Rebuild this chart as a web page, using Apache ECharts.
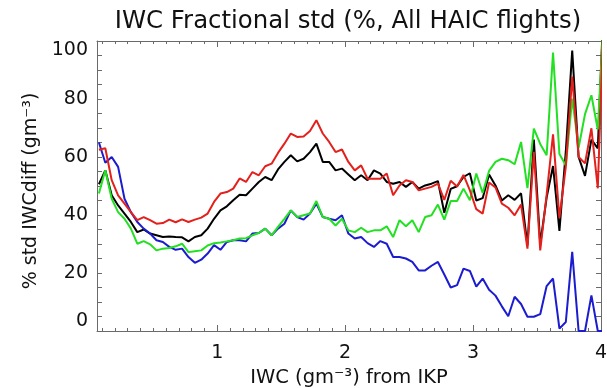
<!DOCTYPE html>
<html>
<head>
<meta charset="utf-8">
<script src="https://cdn.jsdelivr.net/npm/echarts@6/dist/echarts.min.js"></script>
<style>
  html, body { margin: 0; padding: 0; background: #fff; }
  #chart { width: 607px; height: 388px; }
</style>
</head>
<body>
<div id="chart"></div>
<script>
// IWC bin centres (g m^-3) from IKP
const iwc = [
  0.075, 0.125, 0.175, 0.225, 0.275, 0.325, 0.375, 0.425, 0.475, 0.525,
  0.575, 0.625, 0.675, 0.725, 0.775, 0.825, 0.875, 0.925, 0.975, 1.025,
  1.075, 1.125, 1.175, 1.225, 1.275, 1.325, 1.375, 1.425, 1.475, 1.525,
  1.575, 1.625, 1.675, 1.725, 1.775, 1.825, 1.875, 1.925, 1.975, 2.025,
  2.075, 2.125, 2.175, 2.225, 2.275, 2.325, 2.375, 2.425, 2.475, 2.525,
  2.575, 2.625, 2.675, 2.725, 2.775, 2.825, 2.875, 2.925, 2.975, 3.025,
  3.075, 3.125, 3.175, 3.225, 3.275, 3.325, 3.375, 3.425, 3.475, 3.525,
  3.575, 3.625, 3.675, 3.725, 3.775, 3.825, 3.875, 3.925, 3.975, 4.025
];

// fractional std (%) per bin
const stdBlack = [
  50.6, 55.4, 46.8, 43.3, 40.5, 37.6, 34.1, 35.0, 33.6, 33.0,
  32.4, 32.6, 32.4, 32.3, 30.9, 32.4, 33.0, 35.3, 38.7, 41.6,
  43.0, 45.1, 47.0, 46.8, 49.1, 51.4, 53.1, 52.0, 55.7, 58.3,
  60.6, 58.5, 59.4, 61.7, 64.6, 58.3, 58.3, 55.4, 56.0, 54.0,
  52.0, 53.7, 52.0, 55.4, 54.3, 51.4, 50.8, 51.4, 49.7, 51.4,
  49.1, 50.2, 50.8, 51.7, 40.8, 49.0, 49.9, 53.1, 54.4, 45.0,
  45.8, 54.0, 50.2, 45.0, 46.8, 45.2, 47.5, 29.5, 66.0, 30.0,
  46.0, 56.9, 34.5, 62.0, 96.7, 60.0, 53.5, 66.0, 63.0, 118.0
];
const stdRed = [
  62.5, 63.0, 52.0, 46.8, 43.9, 41.0, 38.2, 39.3, 38.2, 37.0,
  37.2, 38.4, 37.5, 38.5, 37.6, 38.4, 39.1, 40.5, 44.5, 47.4,
  47.9, 49.1, 52.6, 51.4, 54.8, 53.7, 56.8, 57.7, 61.4, 64.6,
  68.1, 66.9, 67.1, 69.0, 72.7, 68.1, 65.2, 61.7, 62.6, 58.3,
  55.4, 57.1, 52.5, 52.5, 52.5, 54.3, 46.8, 50.2, 52.0, 51.4,
  48.5, 49.1, 49.7, 50.8, 45.2, 51.8, 49.8, 53.8, 48.5, 42.0,
  40.5, 51.2, 49.5, 43.9, 42.5, 39.9, 43.6, 28.4, 61.8, 27.8,
  47.0, 67.8, 38.9, 56.7, 87.7, 60.0, 57.8, 69.9, 49.2, 114.0
];
const stdBlue = [
  65.0, 58.0, 60.0, 56.6, 45.6, 41.0, 37.6, 35.3, 33.6, 31.3,
  30.7, 29.0, 28.0, 28.4, 25.5, 23.5, 24.6, 26.7, 29.6, 28.0,
  30.7, 31.3, 31.3, 30.9, 33.6, 33.8, 35.3, 33.0, 35.3, 37.0,
  41.6, 39.3, 38.4, 40.5, 43.9, 39.3, 38.7, 38.2, 39.9, 33.6,
  31.9, 32.4, 30.3, 29.0, 31.0, 30.1, 25.5, 25.5, 25.0, 23.8,
  20.9, 20.9, 22.5, 23.8, 19.5, 15.0, 15.8, 21.5, 20.7, 15.3,
  18.1, 14.2, 12.2, 8.5, 5.1, 11.8, 9.3, 4.9, 4.9, 5.8,
  15.5, 18.1, 0.8, 3.1, 27.3, 0.0, 0.0, 12.3, 0.0, 0.0
];
const stdGreen = [
  47.4, 55.4, 45.6, 41.0, 38.7, 35.3, 30.1, 31.0, 29.9, 27.8,
  28.4, 28.6, 29.2, 30.1, 27.2, 27.5, 27.8, 29.5, 30.3, 30.5,
  30.9, 31.3, 31.9, 32.0, 33.0, 33.8, 35.3, 33.0, 35.9, 38.7,
  41.6, 39.3, 39.9, 40.5, 44.8, 39.3, 38.7, 36.4, 38.7, 34.7,
  34.1, 35.6, 34.1, 34.7, 34.7, 36.1, 32.4, 38.2, 36.1, 38.2,
  34.1, 39.3, 39.9, 43.6, 38.4, 44.8, 44.8, 49.1, 45.1, 54.3,
  47.6, 55.2, 58.3, 59.4, 58.9, 57.5, 65.2, 49.3, 69.8, 64.5,
  60.6, 96.0, 61.0, 57.1, 80.1, 63.2, 74.8, 81.3, 69.5, 112.0
];

// axis ranges and labels
const xMin = 0.06, xMax = 4.0;
const yMin = 0, yMax = 100;
const xLabels = [1, 2, 3, 4];
const yLabels = [0, 20, 40, 60, 80, 100];

const xMinorTicks = [];
for (let k = 1; k <= 40; k++) xMinorTicks.push(+(k * 0.1).toFixed(1));
const yTicks = [];
for (let k = 0; k <= 20; k++) yTicks.push(k * 5);

const FONT = 'DejaVu Sans';
const frame = '#6a6a6a';

function pairs(vals) { return iwc.map((x, i) => [x, vals[i]]); }

function xAxisDef(pos, ticks, len, showLine, showLabels) {
  return {
    type: 'value', position: pos, min: xMin, max: xMax,
    splitLine: { show: false },
    axisLine: { show: showLine, onZero: false, lineStyle: { color: frame, width: 1 } },
    axisTick: { show: true, inside: true, length: len, customValues: ticks, lineStyle: { color: frame, width: 1 } },
    axisLabel: showLabels ? {
      show: true, customValues: xLabels, margin: 13, color: '#111',
      fontFamily: FONT, fontSize: 19
    } : { show: false },
    name: showLabels ? 'IWC (gm\u207B\u00B3) from IKP' : '',
    nameLocation: 'middle', nameGap: 34,
    nameTextStyle: { fontFamily: FONT, fontSize: 19.5, color: '#111' }
  };
}

function yAxisDef(pos, showLabels) {
  return {
    type: 'value', position: pos, min: yMin, max: yMax,
    splitLine: { show: false },
    axisLine: { show: true, onZero: false, lineStyle: { color: frame, width: 1 } },
    axisTick: { show: true, inside: true, length: 5, customValues: yTicks, lineStyle: { color: frame, width: 1 } },
    axisLabel: showLabels ? {
      show: true, customValues: yLabels, margin: 9, color: '#111',
      fontFamily: FONT, fontSize: 19,
      verticalAlignMaxLabel: 'top', verticalAlignMinLabel: 'bottom'
    } : { show: false },
    name: showLabels ? '% std IWCdiff (gm\u207B\u00B3)' : '',
    nameLocation: 'middle', nameGap: 54, nameRotate: 90,
    nameTextStyle: { fontFamily: FONT, fontSize: 19, color: '#111', padding: [0, 10, 0, 0] }
  };
}

function lineSeries(name, vals, color, z) {
  return {
    name: name, type: 'line', data: pairs(vals),
    xAxisIndex: 0, yAxisIndex: 0,
    showSymbol: false, symbol: 'none', clip: true, z: z,
    lineStyle: { color: color, width: 2 },
    emphasis: { disabled: true }
  };
}

const chart = echarts.init(document.getElementById('chart'), null, { renderer: 'canvas' });
chart.setOption({
  animation: false,
  backgroundColor: '#ffffff',
  title: {
    text: 'IWC Fractional std (%, All HAIC flights)',
    left: 343, top: 5, textAlign: 'center',
    textStyle: { fontFamily: FONT, fontSize: 24.4, fontWeight: 'normal', color: '#111' }
  },
  grid: { left: 97, right: 6, top: 41, bottom: 57, containLabel: false, outerBoundsMode: 'none' },
  xAxis: [
    xAxisDef('bottom', xLabels, 6, true, true),
    xAxisDef('bottom', xMinorTicks, 3, false, false),
    xAxisDef('top', xLabels, 6, true, false),
    xAxisDef('top', xMinorTicks, 3, false, false)
  ],
  yAxis: [
    yAxisDef('left', true),
    yAxisDef('right', false)
  ],
  series: [
    lineSeries('black', stdBlack, '#000000', 2),
    lineSeries('blue', stdBlue, '#1c1ccf', 3),
    lineSeries('green', stdGreen, '#22e022', 4),
    lineSeries('red', stdRed, '#e3201c', 5)
  ]
});
</script>
</body>
</html>
